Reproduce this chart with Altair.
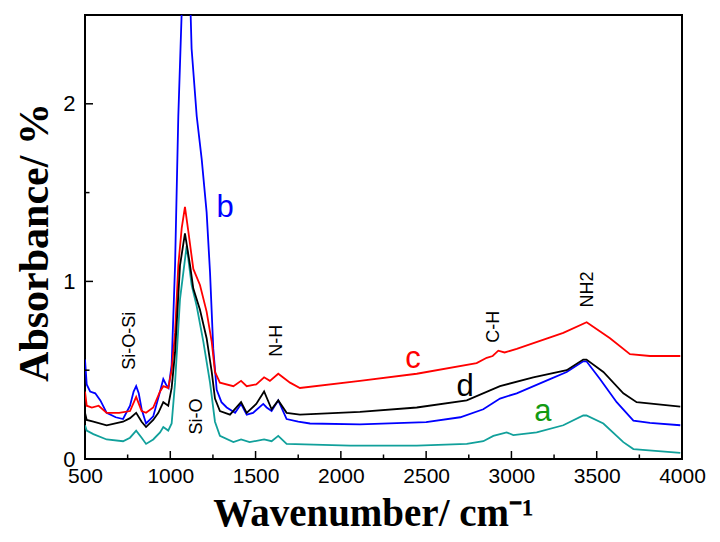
import altair as alt
import pandas as pd

# ---- spectra ----
a_x = [500, 510, 549, 627, 723, 764, 800, 832, 858, 900, 940, 959, 988, 1008, 1028, 1057, 1096, 1125, 1155,
       1194, 1233, 1262, 1291, 1370, 1415, 1465, 1550, 1594, 1633, 1682, 2054, 2445, 2738, 2835, 2894, 2972,
       3011, 3148, 3304, 3421, 3440, 3539, 3656, 3715, 3990]
a_y = [0.19, 0.16, 0.14, 0.11, 0.10, 0.12, 0.16, 0.12, 0.085, 0.11, 0.15, 0.18, 0.16, 0.20, 0.43, 0.90, 1.20,
       0.98, 0.86, 0.66, 0.43, 0.21, 0.13, 0.095, 0.11, 0.095, 0.11, 0.10, 0.13, 0.085, 0.075, 0.075, 0.085,
       0.10, 0.13, 0.15, 0.135, 0.15, 0.19, 0.245, 0.245, 0.20, 0.095, 0.056, 0.034]

b_x = [500, 510, 530, 560, 590, 627, 680, 723, 764, 785, 800, 815, 832, 858, 900, 940, 959, 975, 990, 1008,
       1028, 1047, 1068, 1092, 1118, 1125, 1155, 1184, 1213, 1233, 1252, 1272, 1300, 1331, 1380, 1415, 1448,
       1485, 1545, 1565, 1594, 1633, 1682, 1750, 1819, 2112, 2500, 2700, 2835, 2933, 3031, 3226, 3324, 3421,
       3440, 3519, 3617, 3715, 3812, 3990]
b_y = [0.56, 0.42, 0.38, 0.37, 0.33, 0.26, 0.235, 0.225, 0.30, 0.38, 0.41, 0.37, 0.28, 0.20, 0.24, 0.38, 0.45,
       0.42, 0.40, 0.53, 1.09, 1.93, 2.55, 3.0, 2.55, 2.31, 1.93, 1.69, 1.39, 1.05, 0.62, 0.39, 0.32, 0.29,
       0.26, 0.31, 0.25, 0.26, 0.31, 0.29, 0.27, 0.33, 0.225, 0.21, 0.20, 0.195, 0.208, 0.235, 0.28, 0.34,
       0.37, 0.45, 0.49, 0.55, 0.55, 0.45, 0.32, 0.216, 0.203, 0.19]

c_x = [500, 510, 540, 580, 627, 700, 764, 800, 832, 858, 900, 940, 959, 988, 1008, 1028, 1047, 1067, 1086,
       1106, 1135, 1174, 1213, 1243, 1262, 1291, 1370, 1415, 1448, 1504, 1550, 1584, 1633, 1702, 1760, 2112,
       2445, 2796, 2855, 2890, 2923, 2960, 3031, 3304, 3441, 3578, 3695, 3812, 3990]
c_y = [0.38, 0.30, 0.29, 0.30, 0.26, 0.26, 0.27, 0.35, 0.27, 0.26, 0.29, 0.38, 0.41, 0.40, 0.50, 0.71, 1.09,
       1.30, 1.42, 1.28, 1.07, 0.98, 0.83, 0.66, 0.49, 0.43, 0.41, 0.44, 0.41, 0.42, 0.46, 0.44, 0.48, 0.43,
       0.40, 0.44, 0.48, 0.54, 0.57, 0.58, 0.61, 0.60, 0.62, 0.71, 0.77, 0.68, 0.59, 0.58, 0.58]

d_x = [500, 510, 549, 627, 723, 764, 800, 832, 858, 900, 930, 959, 988, 1008, 1028, 1057, 1086, 1116, 1135,
       1174, 1213, 1243, 1262, 1291, 1350, 1415, 1448, 1504, 1550, 1594, 1633, 1682, 1760, 2112, 2445, 2738,
       2933, 3128, 3324, 3421, 3440, 3539, 3656, 3734, 3990]
d_y = [0.26, 0.22, 0.21, 0.19, 0.21, 0.23, 0.26, 0.21, 0.18, 0.22, 0.26, 0.32, 0.30, 0.40, 0.60, 1.09, 1.27,
       1.09, 0.96, 0.84, 0.68, 0.49, 0.34, 0.27, 0.25, 0.32, 0.26, 0.31, 0.38, 0.28, 0.33, 0.26, 0.25, 0.265,
       0.29, 0.33, 0.41, 0.46, 0.50, 0.56, 0.56, 0.49, 0.37, 0.32, 0.295]

series_names = ["a", "b", "c", "d"]
series_colors = ["#11a09b", "#0000ff", "#ff0000", "#000000"]

# ---- labels ----
letter_text = ["a", "b", "c", "d"]
letter_x = [3185, 1321, 2423, 2728]
letter_y = [0.213, 1.365, 0.511, 0.354]
letter_color = ["#129a12", "#0000ff", "#ff0000", "#000000"]

band_text = ["Si-O-Si", "Si-O", "N-H", "C-H", "NH2"]
band_x = [761, 1157, 1623, 2898, 3449]
band_y = [0.666, 0.239, 0.666, 0.744, 0.955]

x_ticks = [500, 1000, 1500, 2000, 2500, 3000, 3500, 4000]
x_minor = [750, 1250, 1750, 2250, 2750, 3250, 3750]
y_ticks = [0, 1, 2]
y_minor = [0.5, 1.5]

rows = []
for name, xs_, ys_ in zip(series_names, [a_x, b_x, c_x, d_x], [a_y, b_y, c_y, d_y]):
    for i, (xv, yv) in enumerate(zip(xs_, ys_)):
        rows.append({"series": name, "x": xv, "y": yv, "i": i})
df = pd.DataFrame(rows)

W, H = 597, 444
xs = alt.Scale(domain=[500, 4000], nice=False, zero=False)
ys = alt.Scale(domain=[0, 2.5], nice=False)

x_axis = alt.Axis(
    values=x_ticks, format="d", ticks=False, grid=False, domain=False,
    labelFont="Liberation Sans", labelFontSize=21, labelColor="black", labelPadding=6,
    labelFlush=False, labelOverlap=False,
    title="Wavenumber/ cm\u207b\u00b9", titleFont="Liberation Serif", titleFontSize=39,
    titleFontWeight="bold", titleColor="black", titleX=288, titleY=66,
    titleBaseline="alphabetic", titleAlign="center")
y_axis = alt.Axis(
    values=y_ticks, format="d", ticks=False, grid=False, domain=False,
    labelFont="Liberation Sans", labelFontSize=22, labelColor="black", labelPadding=10,
    labelFlush=False, labelOverlap=False,
    title="Absorbance/ %", titleFont="Liberation Serif", titleFontSize=42,
    titleFontWeight="bold", titleColor="black", titleX=-38, titleY=227,
    titleAngle=270, titleBaseline="alphabetic", titleAlign="center")

X = lambda: alt.X("x:Q", scale=xs, axis=x_axis)
Y = lambda: alt.Y("y:Q", scale=ys, axis=y_axis)

lines = alt.Chart(df).mark_line(strokeWidth=1.8, clip=True).encode(
    x=X(), y=Y(),
    color=alt.Color("series:N", scale=alt.Scale(domain=series_names, range=series_colors), legend=None),
    order=alt.Order("i:Q"),
)

def xtick_layer(vals, length):
    return alt.Chart(pd.DataFrame({"x": vals})).mark_rule(color="black", strokeWidth=1.5).encode(
        x=X(), y=alt.value(H), y2=alt.value(H - length))

def ytick_layer(vals, length):
    return alt.Chart(pd.DataFrame({"y": vals})).mark_rule(color="black", strokeWidth=1.5).encode(
        y=Y(), x=alt.value(0), x2=alt.value(length))

letters = alt.Chart(pd.DataFrame({"t": letter_text, "x": letter_x, "y": letter_y, "c": letter_color})).mark_text(
    font="Liberation Sans", fontSize=31, baseline="alphabetic", align="center").encode(
    x=X(), y=Y(), text="t:N", color=alt.Color("c:N", scale=None))

bands = alt.Chart(pd.DataFrame({"t": band_text, "x": band_x, "y": band_y})).mark_text(
    font="Liberation Sans", fontSize=18, baseline="middle", align="center", angle=270, color="black").encode(
    x=X(), y=Y(), text="t:N")

chart = alt.layer(
    lines,
    xtick_layer(x_ticks, 8), xtick_layer(x_minor, 4.5),
    ytick_layer(y_ticks, 8), ytick_layer(y_minor, 4.5),
    letters, bands,
).properties(
    width=W, height=H, autosize="none",
    padding={"left": 77, "top": 7, "right": 30, "bottom": 75},
).configure_view(stroke="black", strokeWidth=2)

chart.save("out.html", embed_options={"renderer": "svg", "actions": False})
